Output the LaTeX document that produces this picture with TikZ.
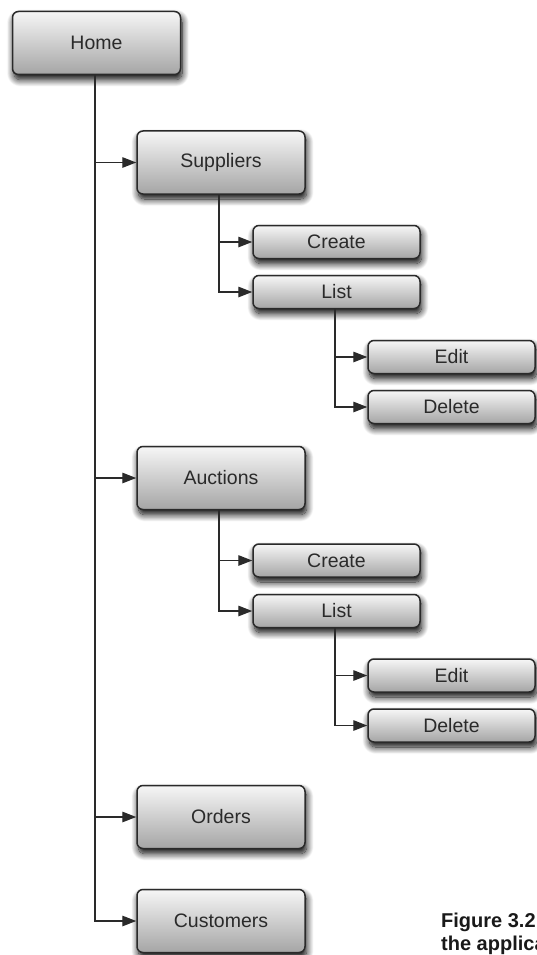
\documentclass[tikz,border=0pt]{standalone}
\usepackage{fontspec}
\setmainfont{Liberation Sans}
\usetikzlibrary{arrows.meta,shadows.blur}
\definecolor{ink}{HTML}{2A2A2A}
\definecolor{boxtop}{HTML}{F6F6F6}
\definecolor{boxbot}{HTML}{A5A5A5}
\begin{document}
\begin{tikzpicture}[x=1pt,y=-1pt,
  boxbase/.style={draw=ink, line width=1.5pt, rounded corners=6pt,
    top color=boxtop, bottom color=boxbot, text=ink,
    font=\fontsize{19.5}{22}\selectfont, inner sep=0pt,
    blur shadow={shadow xshift=1.5pt, shadow yshift=-5pt, shadow blur radius=7pt, shadow opacity=100, shadow blur steps=12}},
  bigbox/.style={boxbase, minimum width=168pt, minimum height=63pt},
  smallbox/.style={boxbase, minimum width=167pt, minimum height=33pt},
  conn/.style={draw=ink, line width=1.4pt, -{Triangle[length=14pt,width=10.5pt]}},
  capt/.style={anchor=base west, font=\bfseries\fontsize{20}{22}\selectfont, text=black!90, inner sep=0pt}]
\useasboundingbox (0,0) rectangle (537,955);
\clip (0,0) rectangle (537,955);
% nodes
\node[bigbox] (home) at (96.5,43) {Home};
\node[bigbox] (sup) at (221,162.5) {Suppliers};
\node[smallbox] (sc) at (336.5,242) {Create};
\node[smallbox] (sl) at (336.5,292) {List};
\node[smallbox] (se) at (451.5,357) {Edit};
\node[smallbox] (sd) at (451.5,407) {Delete};
\node[bigbox] (auc) at (221,478) {Auctions};
\node[smallbox] (ac) at (336.5,560.5) {Create};
\node[smallbox] (al) at (336.5,611) {List};
\node[smallbox] (ae) at (451.5,675.5) {Edit};
\node[smallbox] (ad) at (451.5,725.5) {Delete};
\node[bigbox] (ord) at (221,817) {Orders};
\node[bigbox] (cus) at (221,921) {Customers};
% connectors
\coordinate (hs) at ([xshift=-1.5pt]home.south);
\coordinate (ss) at ([xshift=-2pt]sup.south);
\coordinate (as) at ([xshift=-2pt]auc.south);
\coordinate (sls) at ([xshift=-1.5pt]sl.south);
\coordinate (als) at ([xshift=-1.5pt]al.south);
\draw[conn] (hs) |- (sup.west);
\draw[conn] (hs) |- (auc.west);
\draw[conn] (hs) |- (ord.west);
\draw[conn] (hs) |- (cus.west);
\draw[conn] (ss) |- (sc.west);
\draw[conn] (ss) |- (sl.west);
\draw[conn] (sls) |- (se.west);
\draw[conn] (sls) |- (sd.west);
\draw[conn] (as) |- (ac.west);
\draw[conn] (as) |- (al.west);
\draw[conn] (als) |- (ae.west);
\draw[conn] (als) |- (ad.west);
% caption
\node[capt] (cap1) at (441,927) {Figure 3.2};
\node[capt] (cap2) at (441,950) {the applica};
\end{tikzpicture}
\end{document}
